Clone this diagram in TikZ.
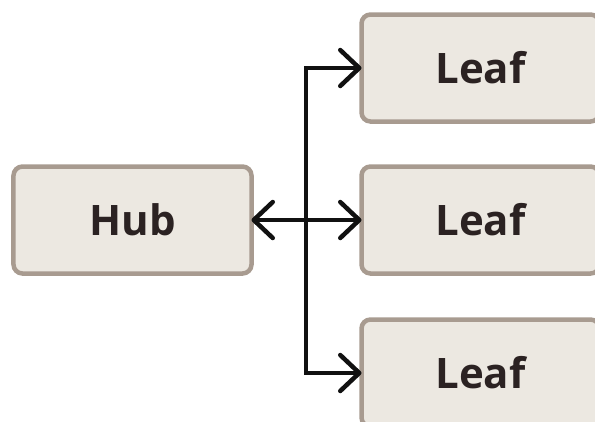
\documentclass[tikz,border=0pt]{standalone}
\usepackage{fontspec}
\setmainfont{Open Sans}
\usetikzlibrary{arrows.meta}
\definecolor{boxfill}{HTML}{ECE8E1}
\definecolor{boxline}{HTML}{A89B90}
\definecolor{boxtext}{HTML}{2B2222}
\definecolor{wire}{HTML}{111111}
\tikzset{
  card/.style={draw=boxline, fill=boxfill, line width=4.5bp, rounded corners=9bp,
    minimum width=238bp, minimum height=107bp, inner sep=0pt, outer sep=0pt,
    text=boxtext, font=\fontsize{42bp}{42bp}\selectfont\bfseries},
  wirestyle/.style={draw=wire, line width=4.5bp, line cap=round, line join=miter,
    arrows={Straight Barb[length=19bp,width=36bp,round]-Straight Barb[length=19bp,width=36bp,round]}},
  oneway/.style={draw=wire, line width=4.5bp, line join=miter,
    -{Straight Barb[length=19bp,width=36bp,round]}}
}
\begin{document}
\begin{tikzpicture}[x=1bp,y=-1bp]
\useasboundingbox (0,0) rectangle (595,421);
\clip (0,0) rectangle (595,421);
\node[card] (hub) at (132.5,220) {Hub};
\node[card] (leafA) at (480.5,68) {Leaf};
\node[card] (leafB) at (480.5,220) {Leaf};
\node[card] (leafC) at (480.5,373) {Leaf};
\coordinate (junc) at (306,220);
\draw[wirestyle] (hub) -- (leafB);
\draw[oneway] (junc) |- (leafA);
\draw[oneway] (junc) |- (leafC);
\end{tikzpicture}
\end{document}
